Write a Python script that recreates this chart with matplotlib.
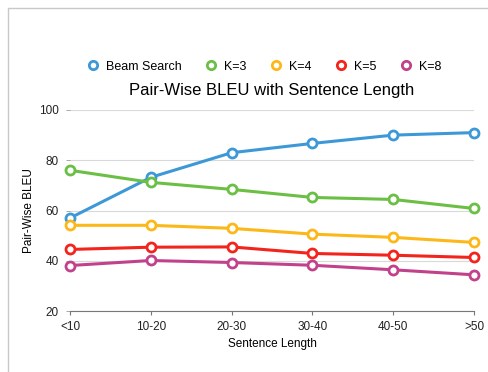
import matplotlib.pyplot as plt
from matplotlib.lines import Line2D
from matplotlib.patches import Rectangle

plt.rcParams['font.family'] = ['Liberation Sans', 'DejaVu Sans']

lengths = ["<10", "10-20", "20-30", "30-40", "40-50", ">50"]
beam_search = [57.0, 73.2, 83.0, 86.7, 90.0, 91.0]
k3 = [76.0, 71.2, 68.4, 65.2, 64.4, 60.8]
k4 = [54.1, 54.1, 52.9, 50.6, 49.3, 47.3]
k5 = [44.5, 45.4, 45.5, 42.9, 42.2, 41.3]
k8 = [38.1, 40.1, 39.3, 38.2, 36.4, 34.4]

series = [
    ("Beam Search", beam_search, "#3d98d7"),
    ("K=3", k3, "#6bbf45"),
    ("K=4", k4, "#fcb818"),
    ("K=5", k5, "#f3241c"),
    ("K=8", k8, "#c1428b"),
]


def plot():
    fig = plt.figure(figsize=(4.88, 3.72), dpi=100)
    fig.add_artist(Rectangle((8 / 488, -0.1), 1.2, 1 - 8 / 372 + 0.1, transform=fig.transFigure,
                             fill=False, edgecolor="#c8c8c8", linewidth=1.0))
    ax = fig.add_axes([70 / 488, 1 - 311 / 372, (474 - 70) / 488, (311 - 110) / 372])

    x = range(len(lengths))
    handles = []
    for name, values, color in series:
        ax.plot(x, values, color=color, linewidth=2.2, marker="o", markersize=6.5,
                markerfacecolor="white", markeredgewidth=2.0, clip_on=False, zorder=3)
        handles.append(Line2D([], [], linestyle="none", marker="o", markersize=6,
                              markerfacecolor="white", markeredgecolor=color,
                              markeredgewidth=2.0, label=name))

    ax.set_xlim(0, len(lengths) - 1)
    ax.set_ylim(20, 100)
    ax.set_yticks([20, 40, 60, 80, 100])
    ax.set_xticks(list(x))
    ax.set_xticklabels(lengths)
    ax.tick_params(axis="both", labelsize=8.5, colors="#222222")
    ax.tick_params(axis="y", length=3, width=0.6, color="#999999", pad=5)
    ax.tick_params(axis="x", length=3, width=0.8, color="#777777", pad=4)
    ax.grid(axis="y", color="#d9d9d9", linewidth=0.8)
    ax.set_axisbelow(True)
    for side in ["top", "right", "left"]:
        ax.spines[side].set_visible(False)
    ax.spines["bottom"].set_color("#777777")
    ax.spines["bottom"].set_linewidth(0.8)

    ax.set_ylabel("Pair-Wise BLEU", fontsize=8.5, labelpad=3)
    ax.set_xlabel("Sentence Length", fontsize=8.5, labelpad=4)
    ax.set_title("Pair-Wise BLEU with Sentence Length", fontsize=12, pad=11)
    ax.legend(handles=handles, loc="lower center", bbox_to_anchor=(0.48, 1.13), ncol=5,
              frameon=False, fontsize=9, handlelength=1.0, columnspacing=1.9,
              handletextpad=0.5, numpoints=1)

    fig.savefig("out.png", dpi=100)


if __name__ == "__main__":
    plot()
